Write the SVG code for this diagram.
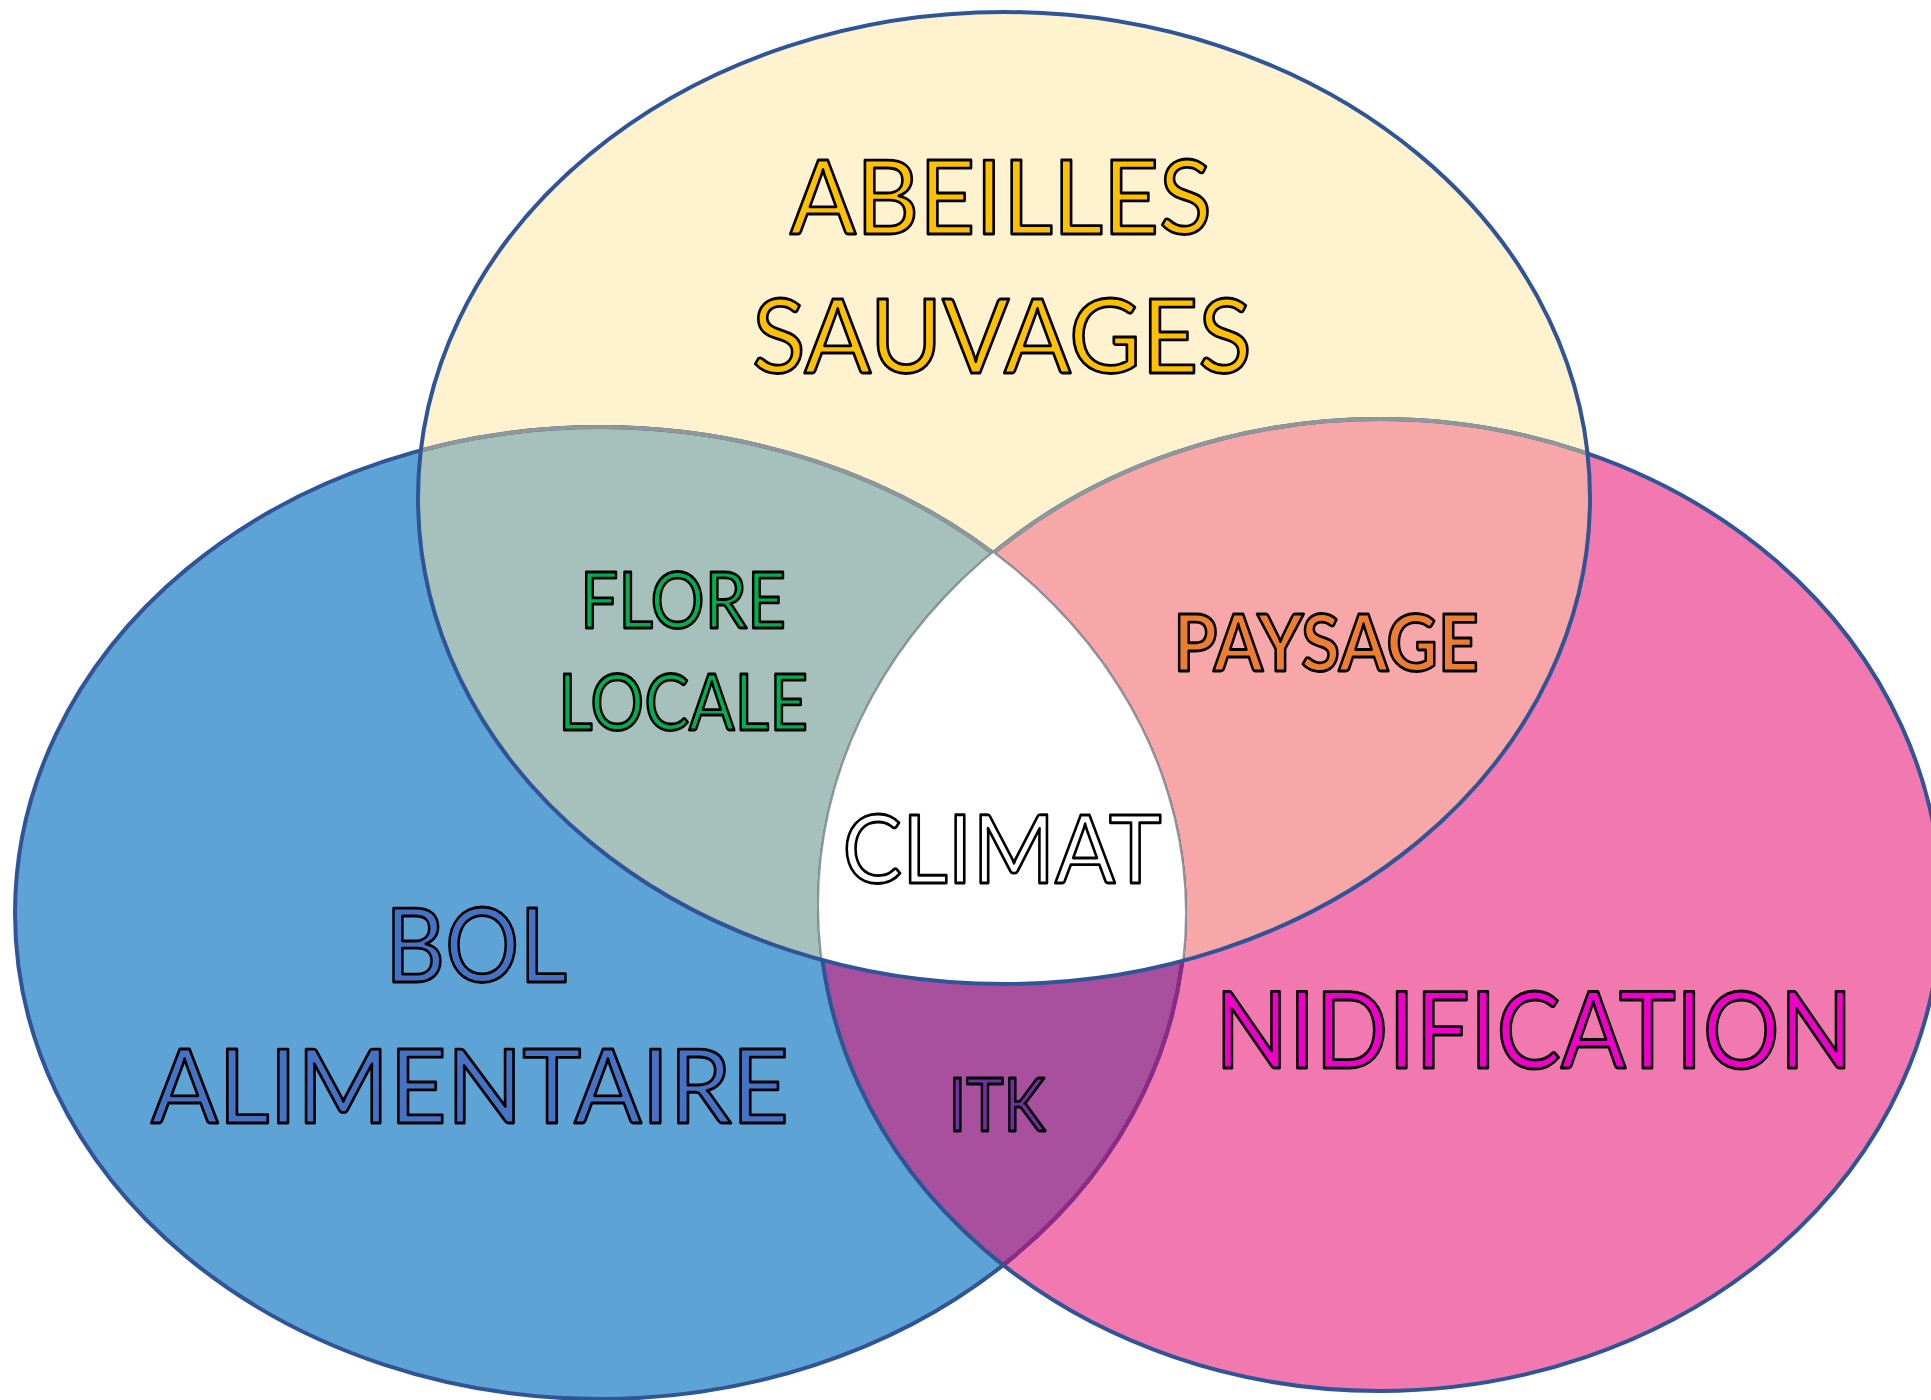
<svg xmlns="http://www.w3.org/2000/svg" width="1931" height="1400" viewBox="0 0 1931 1400">
  <style>
    .lbl { font-family: Lato, "Open Sans", "Liberation Sans", sans-serif; text-anchor: middle; stroke: #000; stroke-width: 2.8; stroke-linejoin: round; }
    .edge { fill: none; stroke-width: 4; }
    .blue { stroke: #2F5597; }
    .gray { stroke: #8E9898; }
    .purp { stroke: #8E2A86; }
  </style>
  <defs>
    <ellipse id="eL" cx="600" cy="913" rx="585" ry="486"/>
    <ellipse id="eR" cx="1380" cy="905" rx="561" ry="486"/>
    <ellipse id="eT" cx="1004" cy="498" rx="586" ry="486"/>
    <clipPath id="clipL"><use href="#eL"/></clipPath>
    <clipPath id="clipR"><use href="#eR"/></clipPath>
    <clipPath id="clipT"><use href="#eT"/></clipPath>
  </defs>
  <rect width="1931" height="1400" fill="#FFFFFF"/>

  <g id="circle-bol-alimentaire"><use href="#eL" fill="#5EA3D6"/></g>
  <g id="circle-nidification"><use href="#eR" fill="#F279B0"/></g>
  <g id="circle-abeilles-sauvages"><use href="#eT" fill="#FFF2CF"/></g>

  <g id="overlap-itk"><use href="#eR" fill="#A8509E" clip-path="url(#clipL)"/></g>
  <g id="overlap-flore-locale"><use href="#eT" fill="#A6C1BB" clip-path="url(#clipL)"/></g>
  <g id="overlap-paysage"><use href="#eT" fill="#F7A7A8" clip-path="url(#clipR)"/></g>

  <g id="connectors">
    <use href="#eL" class="edge blue"/>
    <use href="#eL" class="edge purp" clip-path="url(#clipR)"/>
    <use href="#eL" class="edge gray" clip-path="url(#clipT)"/>
    <use href="#eR" class="edge blue"/>
    <use href="#eR" class="edge gray" clip-path="url(#clipT)"/>
  </g>

  <g id="overlap-climat">
    <g clip-path="url(#clipL)"><use href="#eT" fill="#FFFFFF" clip-path="url(#clipR)"/></g>
  </g>

  <g id="outline-top"><use href="#eT" class="edge blue"/></g>

  <g id="label-abeilles">
    <text class="lbl" x="1001" y="234" font-size="102" fill="#FFC000" textLength="422" lengthAdjust="spacingAndGlyphs">ABEILLES</text>
    <text class="lbl" x="1002" y="373" font-size="102" fill="#FFC000" textLength="500" lengthAdjust="spacingAndGlyphs">SAUVAGES</text>
  </g>
  <g id="label-flore">
    <text class="lbl" x="683" y="628" font-size="78" fill="#00B050" textLength="206" lengthAdjust="spacingAndGlyphs">FLORE</text>
    <text class="lbl" x="683" y="730" font-size="78" fill="#00B050" textLength="250" lengthAdjust="spacingAndGlyphs">LOCALE</text>
  </g>
  <g id="label-paysage">
    <text class="lbl" x="1326" y="671" font-size="78" font-weight="bold" fill="#ED7D31" textLength="305" lengthAdjust="spacingAndGlyphs">PAYSAGE</text>
  </g>
  <g id="label-climat">
    <text class="lbl" x="1002" y="883" font-size="95" fill="#FFFFFF" textLength="319" lengthAdjust="spacingAndGlyphs">CLIMAT</text>
  </g>
  <g id="label-bol">
    <text class="lbl" x="476" y="982" font-size="103" fill="#4472C4" textLength="182" lengthAdjust="spacingAndGlyphs">BOL</text>
    <text class="lbl" x="470" y="1123" font-size="103" fill="#4472C4" textLength="638" lengthAdjust="spacingAndGlyphs">ALIMENTAIRE</text>
  </g>
  <g id="label-nidification">
    <text class="lbl" x="1534" y="1068" font-size="107" fill="#EE00C8" textLength="638" lengthAdjust="spacingAndGlyphs">NIDIFICATION</text>
  </g>
  <g id="label-itk">
    <text class="lbl" x="997" y="1131" font-size="74" fill="#7030A0" textLength="97" lengthAdjust="spacingAndGlyphs">ITK</text>
  </g>
</svg>
